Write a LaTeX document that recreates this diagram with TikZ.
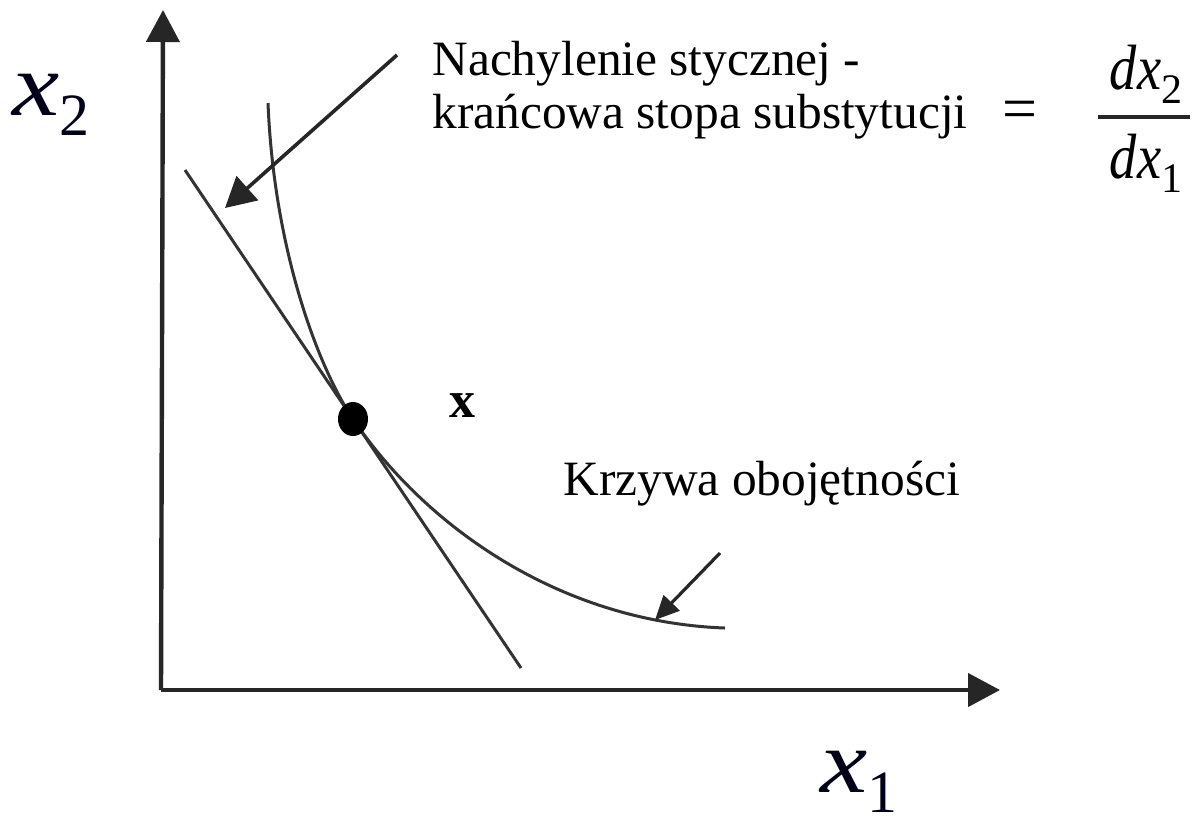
\documentclass[tikz,border=0pt]{standalone}
\usepackage{fontspec}
\setmainfont{Liberation Serif}
\usepackage{graphicx}
\usetikzlibrary{arrows.meta}
\newcommand{\bigvar}[2]{{\fontsize{45}{50}\selectfont\scalebox{1.18}[1]{\itshape x}}\raisebox{-10pt}{\fontsize{30}{34}\selectfont #2}}
\newcommand{\dxvar}[1]{\scalebox{0.85}[1]{\itshape dx}\raisebox{-7pt}{\fontsize{21}{23}\selectfont\upshape #1}}
\begin{document}
\begin{tikzpicture}[x=0.5pt,y=-0.5pt,
  axis/.style={line width=2.2pt,draw=black!85,-{Triangle[length=16pt,width=16.5pt]}},
  curveline/.style={line width=1.5pt,draw=black!80},
  pointer/.style={line width=1.8pt,draw=black!85,-{Triangle[length=15pt,width=16pt]}},
  smallpointer/.style={line width=1.6pt,draw=black!85,-{Triangle[length=12pt,width=11pt]}},
  lbl/.style={inner sep=0pt,font=\fontsize{24.7}{29}\selectfont},
  fraclbl/.style={inner sep=0pt,font=\fontsize{32}{36}\selectfont},
  axlbl/.style={inner sep=0pt,text=black!90!blue}]
\useasboundingbox (0,0) rectangle (1197,827);
% axes
\coordinate (O) at (161,690);
\coordinate (ytop) at (163,10);
\coordinate (xend) at (1000,690);
\draw[axis] (O) -- (ytop);
\draw[axis] (O) -- (xend);
\node[axlbl,anchor=base west] (x2lbl) at (12,115) {\bigvar{x}{2}};
\node[axlbl,anchor=base west] (x1lbl) at (820,792) {\bigvar{x}{1}};
% tangent line
\coordinate (t1) at (185,170);
\coordinate (t2) at (521,668);
\draw[curveline] (t1) -- (t2);
% indifference curve
\coordinate (c0) at (268,103);
\coordinate (T) at (353,419);
\coordinate (c1) at (725,628);
\draw[curveline] (c0) .. controls (274,250) and (318,367) .. (T)
  .. controls (425,526) and (560,622) .. (c1);
\fill[black] (T) ellipse [x radius=15, y radius=17];
\node[inner sep=0pt,anchor=base,font=\fontsize{26}{30}\selectfont\bfseries] (xlbl) at (462,417) {x};
% labels
\node[lbl,anchor=base west] (l1) at (432,75) {Nachylenie stycznej -};
\node[lbl,anchor=base west] (l2) at (432,128) {krańcowa stopa substytucji};
\node[inner sep=0pt,anchor=center,font=\fontsize{31}{34}\selectfont] (eq) at (1020,115) {=};
\node[fraclbl,anchor=base] (num) at (1146,89) {\dxvar{2}};
\node[fraclbl,anchor=base] (den) at (1146,178) {\dxvar{1}};
\coordinate (barl) at (1098,117);
\coordinate (barr) at (1190,117);
\draw[line width=1.6pt,black!85] (barl) -- (barr);
\node[lbl,anchor=base west] (k) at (563,495) {Krzywa obojętności};
% pointers
\coordinate (a1s) at (397,55);
\coordinate (a1e) at (225,208);
\draw[pointer] (a1s) -- (a1e);
\coordinate (a2s) at (720,553);
\coordinate (a2e) at (655,620);
\draw[smallpointer] (a2s) -- (a2e);
\end{tikzpicture}
\end{document}
